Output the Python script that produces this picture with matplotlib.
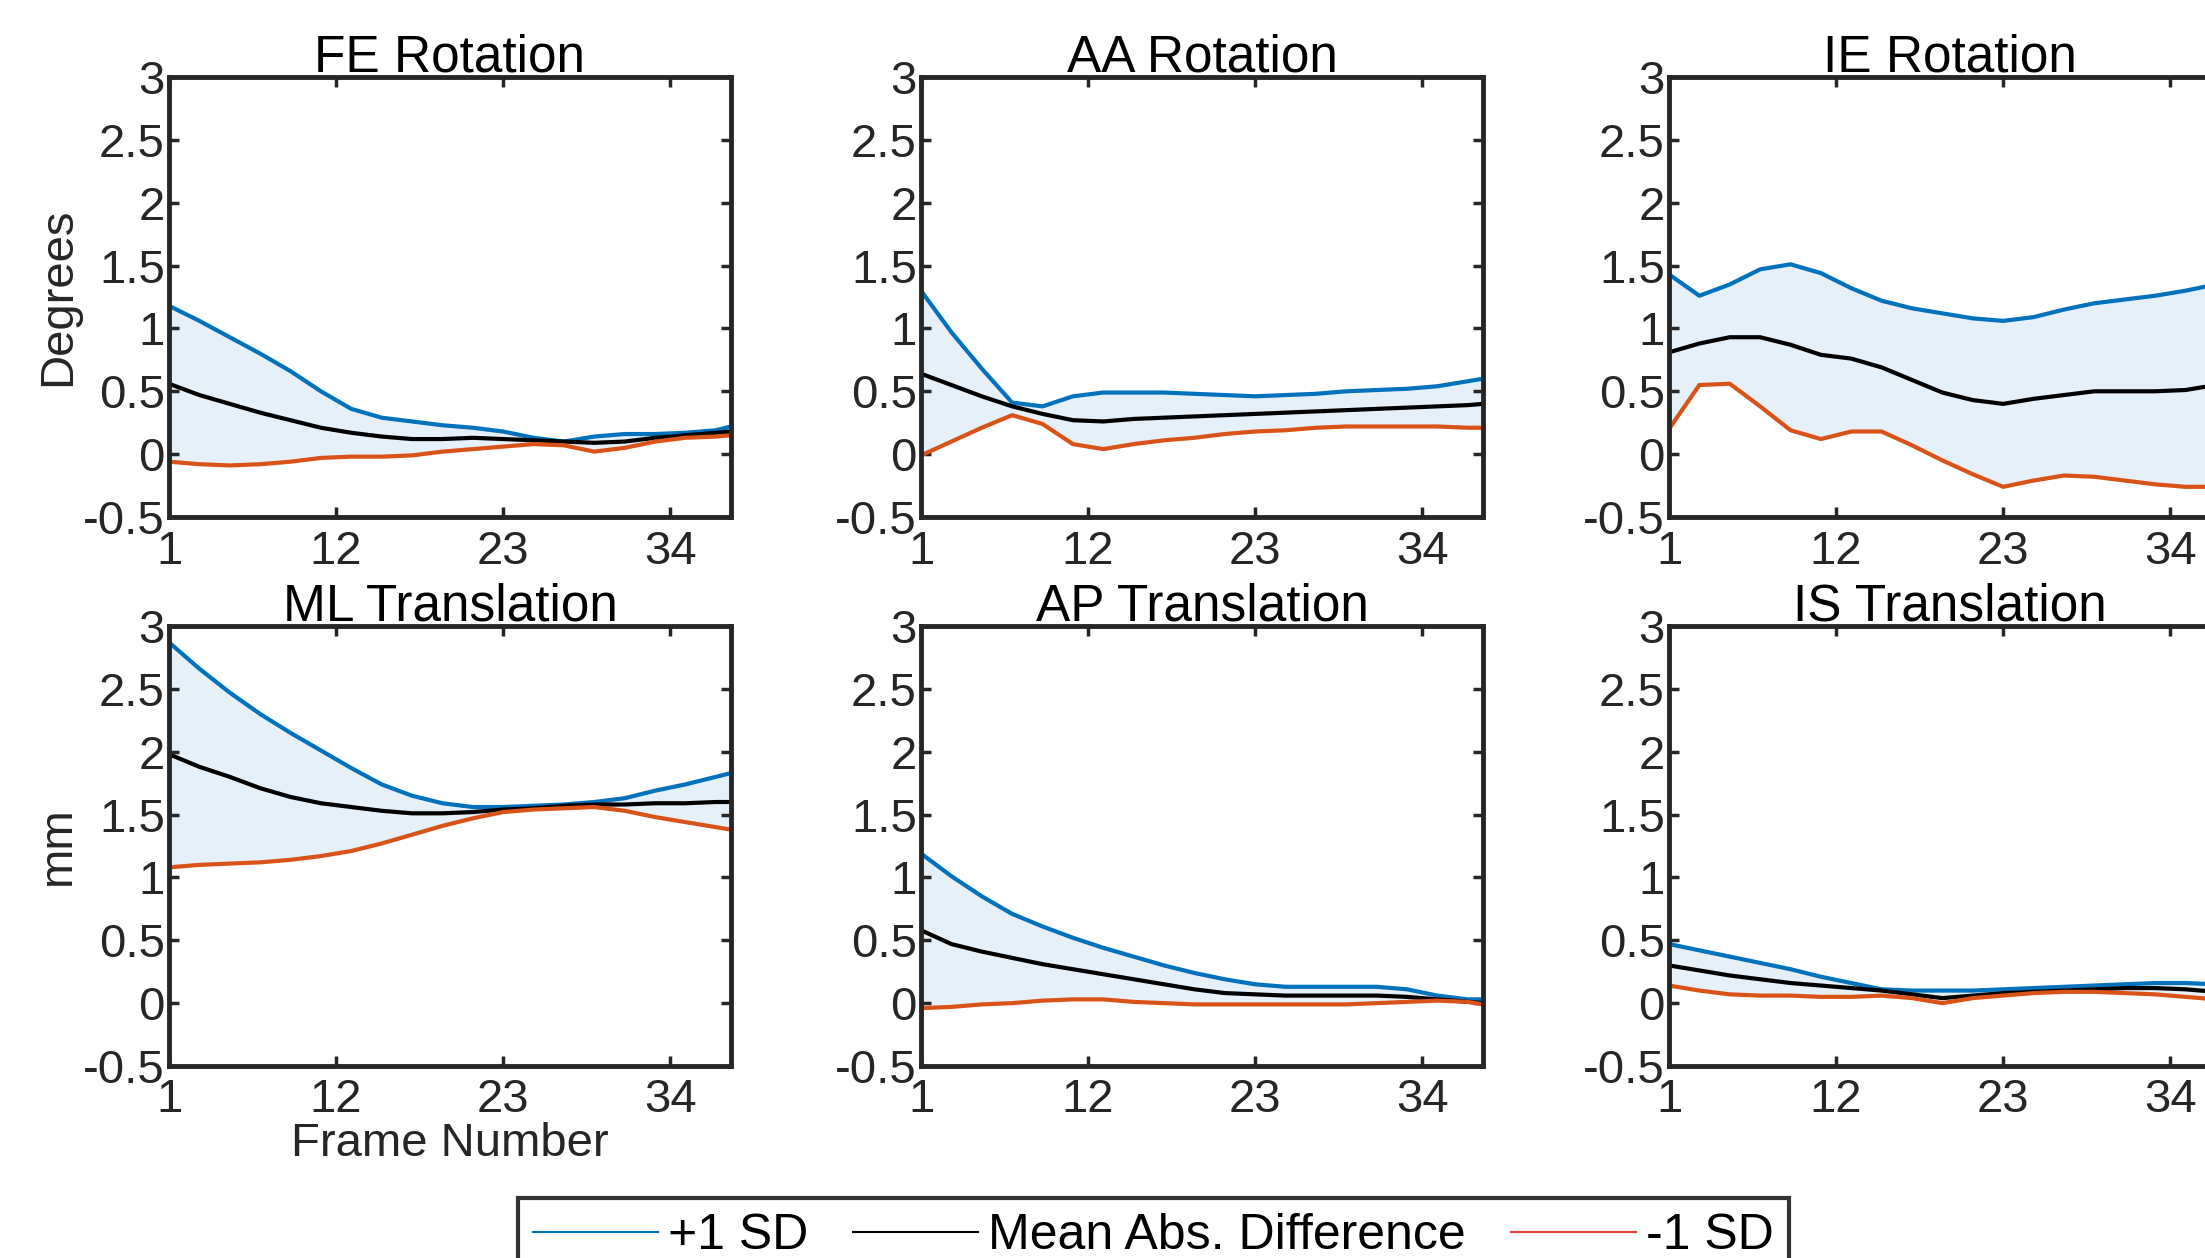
import numpy as np
import matplotlib
matplotlib.use("Agg")
import matplotlib.pyplot as plt

plt.rcParams['font.family'] = ['Liberation Sans', 'DejaVu Sans']

frames = [1, 3, 5, 7, 9, 11, 13, 15, 17, 19, 21, 23, 25, 27, 29, 31, 33, 35, 37, 38]

titles = ["FE Rotation", "AA Rotation", "IE Rotation",
          "ML Translation", "AP Translation", "IS Translation"]

# +1 SD
fe_hi = [1.18, 1.06, 0.93, 0.80, 0.66, 0.50, 0.36, 0.29, 0.26, 0.23, 0.21, 0.18, 0.13, 0.10, 0.14, 0.16, 0.16, 0.17, 0.19, 0.22]
aa_hi = [1.30, 0.97, 0.68, 0.41, 0.38, 0.46, 0.49, 0.49, 0.49, 0.48, 0.47, 0.46, 0.47, 0.48, 0.50, 0.51, 0.52, 0.54, 0.58, 0.60]
ie_hi = [1.43, 1.26, 1.35, 1.47, 1.51, 1.44, 1.32, 1.22, 1.16, 1.12, 1.08, 1.06, 1.09, 1.15, 1.20, 1.23, 1.26, 1.30, 1.35, 1.38]
ml_hi = [2.87, 2.66, 2.47, 2.30, 2.15, 2.01, 1.87, 1.74, 1.65, 1.59, 1.56, 1.56, 1.57, 1.58, 1.60, 1.63, 1.69, 1.74, 1.80, 1.83]
ap_hi = [1.19, 1.01, 0.85, 0.71, 0.61, 0.52, 0.44, 0.37, 0.30, 0.24, 0.19, 0.15, 0.13, 0.13, 0.13, 0.13, 0.11, 0.06, 0.03, 0.03]
is_hi = [0.47, 0.42, 0.37, 0.32, 0.27, 0.21, 0.16, 0.11, 0.10, 0.10, 0.10, 0.11, 0.12, 0.13, 0.14, 0.15, 0.16, 0.16, 0.15, 0.15]

# mean abs. difference
fe_mean = [0.56, 0.47, 0.40, 0.33, 0.27, 0.21, 0.17, 0.14, 0.12, 0.12, 0.13, 0.12, 0.11, 0.10, 0.09, 0.10, 0.13, 0.15, 0.17, 0.18]
aa_mean = [0.64, 0.55, 0.46, 0.38, 0.32, 0.27, 0.26, 0.28, 0.29, 0.30, 0.31, 0.32, 0.33, 0.34, 0.35, 0.36, 0.37, 0.38, 0.39, 0.40]
ie_mean = [0.81, 0.88, 0.93, 0.93, 0.87, 0.79, 0.76, 0.69, 0.59, 0.49, 0.43, 0.40, 0.44, 0.47, 0.50, 0.50, 0.50, 0.51, 0.55, 0.57]
ml_mean = [1.98, 1.88, 1.80, 1.71, 1.64, 1.59, 1.56, 1.53, 1.51, 1.51, 1.52, 1.54, 1.55, 1.57, 1.58, 1.58, 1.59, 1.59, 1.60, 1.60]
ap_mean = [0.58, 0.47, 0.41, 0.36, 0.31, 0.27, 0.23, 0.19, 0.15, 0.11, 0.08, 0.07, 0.06, 0.06, 0.06, 0.06, 0.05, 0.03, 0.01, 0.00]
is_mean = [0.30, 0.26, 0.22, 0.19, 0.16, 0.14, 0.12, 0.10, 0.07, 0.04, 0.06, 0.08, 0.09, 0.10, 0.11, 0.12, 0.12, 0.11, 0.09, 0.09]

# -1 SD
fe_lo = [-0.06, -0.08, -0.09, -0.08, -0.06, -0.03, -0.02, -0.02, -0.01, 0.02, 0.04, 0.06, 0.08, 0.07, 0.02, 0.05, 0.10, 0.13, 0.14, 0.15]
aa_lo = [-0.01, 0.10, 0.21, 0.31, 0.24, 0.08, 0.04, 0.08, 0.11, 0.13, 0.16, 0.18, 0.19, 0.21, 0.22, 0.22, 0.22, 0.22, 0.21, 0.21]
ie_lo = [0.20, 0.55, 0.56, 0.38, 0.19, 0.12, 0.18, 0.18, 0.07, -0.05, -0.16, -0.26, -0.21, -0.17, -0.18, -0.21, -0.24, -0.26, -0.26, -0.25]
ml_lo = [1.08, 1.10, 1.11, 1.12, 1.14, 1.17, 1.21, 1.27, 1.34, 1.41, 1.47, 1.52, 1.54, 1.55, 1.56, 1.53, 1.48, 1.44, 1.40, 1.38]
ap_lo = [-0.04, -0.03, -0.01, 0.00, 0.02, 0.03, 0.03, 0.01, 0.00, -0.01, -0.01, -0.01, -0.01, -0.01, -0.01, 0.00, 0.01, 0.02, 0.01, -0.01]
is_lo = [0.14, 0.10, 0.07, 0.06, 0.06, 0.05, 0.05, 0.06, 0.04, 0.00, 0.04, 0.06, 0.08, 0.09, 0.09, 0.08, 0.07, 0.05, 0.03, 0.03]

hi_all = [fe_hi, aa_hi, ie_hi, ml_hi, ap_hi, is_hi]
mean_all = [fe_mean, aa_mean, ie_mean, ml_mean, ap_mean, is_mean]
lo_all = [fe_lo, aa_lo, ie_lo, ml_lo, ap_lo, is_lo]

blue = "#0072BD"
orange = "#D95319"
dark = "#262626"

fig = plt.figure(figsize=(22.05, 12.58), dpi=100)

lefts = [169, 921, 1669]
tops = [77, 626]
w_px, h_px = 562, 440

axes = []
for i in range(6):
    r, c = divmod(i, 3)
    ax = fig.add_axes([lefts[c] / 2205, 1 - (tops[r] + h_px) / 1258, w_px / 2205, h_px / 1258])
    ax.fill_between(frames, lo_all[i], hi_all[i], color=blue, alpha=0.1, linewidth=0)
    ax.plot(frames, hi_all[i], color=blue, lw=3)
    ax.plot(frames, mean_all[i], color="black", lw=3)
    ax.plot(frames, lo_all[i], color=orange, lw=3)
    ax.set_xlim(1, 38)
    ax.set_ylim(-0.5, 3)
    ax.set_xticks([1, 12, 23, 34])
    ax.set_yticks([-0.5, 0, 0.5, 1, 1.5, 2, 2.5, 3])
    ax.set_yticklabels(["-0.5", "0", "0.5", "1", "1.5", "2", "2.5", "3"])
    ax.tick_params(direction="in", length=7, width=2.5, labelsize=34, colors=dark,
                   top=True, right=True, pad=3)
    ax.tick_params(axis="x", pad=9)
    for s in ax.spines.values():
        s.set_linewidth(3.5)
        s.set_color(dark)
    ax.set_title(titles[i], fontsize=37, color="black", pad=4)
    axes.append(ax)

axes[0].set_ylabel("Degrees", fontsize=34, color=dark, labelpad=2)
axes[3].set_ylabel("mm", fontsize=34, color=dark, labelpad=2)
axes[3].set_xlabel("Frame Number", fontsize=34, color=dark, labelpad=0)

h1, = axes[0].plot([], [], color=blue, lw=1.5)
h2, = axes[0].plot([], [], color="black", lw=1.5)
h3, = axes[0].plot([], [], color="#E0403A", lw=1.5)
leg = fig.legend([h1, h2, h3], ["+1 SD", "Mean Abs. Difference", "-1 SD"],
                 loc="upper center", bbox_to_anchor=(0.523, 1 - 1198 / 1258),
                 borderaxespad=0, ncol=3, fontsize=36, frameon=True, fancybox=False,
                 handlelength=2.5, handletextpad=0.2, columnspacing=0.9,
                 borderpad=0.3, edgecolor="black")
leg.get_frame().set_linewidth(3)

fig.savefig("out.png", dpi=100)
